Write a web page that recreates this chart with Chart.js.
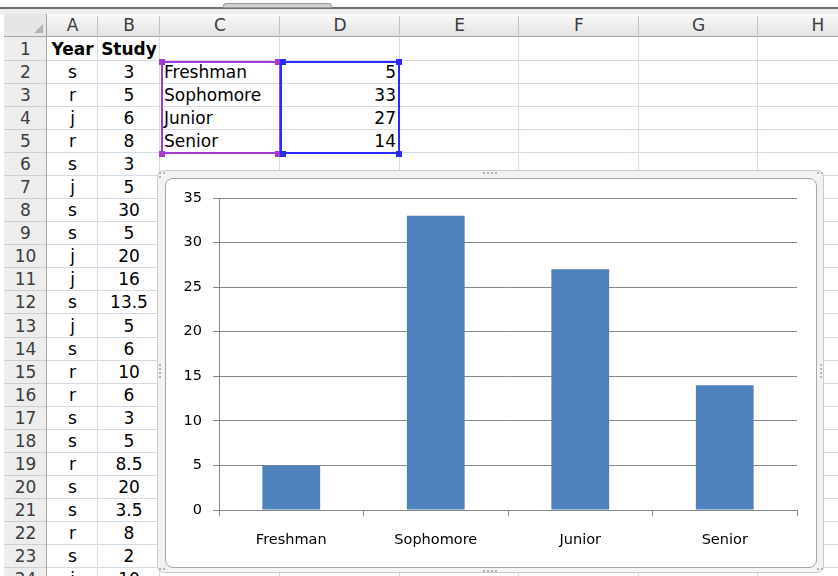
<!DOCTYPE html>
<html>
<head>
<meta charset="utf-8">
<title>Study hours by year</title>
<script src="https://cdn.jsdelivr.net/npm/chart.js@4.4.1/dist/chart.umd.min.js"></script>
<style>
  html, body { margin: 0; padding: 0; background: #fff; }
  body { width: 838px; height: 576px; overflow: hidden; position: relative;
         font-family: "DejaVu Sans", Verdana, sans-serif; }
  .a { position: absolute; box-sizing: border-box; }
  .cell { position: absolute; font-size: 17px; color: #000; white-space: nowrap; }
  .hdr { position: absolute; font-size: 17px; color: #3c3c3c; text-align: center; }
  #frame { left: 157px; top: 170px; width: 667px; height: 403px;
           border: 1px solid #c9c9c9; border-radius: 7px; background: #f2f2f2; }
  #inner { left: 165px; top: 178px; width: 652px; height: 390px;
           border: 1px solid #a6a6a6; border-radius: 8px; background: #fff; }
  #chartBox { position: absolute; left: 165px; top: 178px; width: 652px; height: 390px; }
</style>
</head>
<body>
<div id="sheet"></div>
<div id="frame" class="a"></div>
<div id="inner" class="a"></div>
<div id="chartBox"><canvas id="studyChart" width="652" height="390"></canvas></div>

<script>
// Worksheet contents
const columnLetters = ['A', 'B', 'C', 'D', 'E', 'F', 'G', 'H'];
const headerRow = ['Year', 'Study'];
const yearCodes = ['s', 'r', 'j', 'r', 's', 'j', 's', 's', 'j', 'j', 's', 'j',
                   's', 'r', 'r', 's', 's', 'r', 's', 's', 'r', 's', 'j'];
const studyHours = ['3', '5', '6', '8', '3', '5', '30', '5', '20', '16', '13.5', '5',
                    '6', '10', '6', '3', '5', '8.5', '20', '3.5', '8', '2', '10'];

// Summary table (C2:D5) that feeds the column chart
const categories = ['Freshman', 'Sophomore', 'Junior', 'Senior'];
const studyTotals = [5, 33, 27, 14];

// Value axis ticks
const yTicks = [0, 5, 10, 15, 20, 25, 30, 35];

// ---------- worksheet grid ----------
const sheet = document.getElementById('sheet');
const colEdges = [4, 47, 98, 160, 280, 400, 519, 639, 758, 878];
const headTop = 14, headBottom = 37;
const rowTop = r => Math.round(37.5 + (r - 1) * 23.08);
const rowCount = 24;

function box(x, y, w, h, style) {
  const d = document.createElement('div');
  d.className = 'a';
  d.style.left = x + 'px'; d.style.top = y + 'px';
  d.style.width = w + 'px'; d.style.height = h + 'px';
  Object.assign(d.style, style || {});
  sheet.appendChild(d);
  return d;
}
function text(cls, x, y, w, h, str, align, extra) {
  const d = document.createElement('div');
  d.className = cls;
  d.style.left = x + 'px'; d.style.top = y + 'px';
  d.style.width = w + 'px'; d.style.height = h + 'px';
  d.style.lineHeight = h + 'px';
  d.style.textAlign = align;
  Object.assign(d.style, extra || {});
  d.textContent = str;
  sheet.appendChild(d);
}

// window strip above the headers
box(0, 7, 838, 2, { background: '#6e6e6e' });
box(0, 9, 838, 5, { background: '#eeeeee' });
box(223, 3, 109, 5, { background: '#cfcfcf', borderRadius: '3px 3px 0 0', border: '1px solid #9a9a9a' });

// column header band
box(colEdges[1], headTop, 838 - colEdges[1], headBottom - headTop,
    { background: 'linear-gradient(#f9f9f9, #e3e3e3)', borderBottom: '1px solid #a5a5a5' });
// row header band
box(colEdges[0], headBottom, colEdges[1] - colEdges[0], 576 - headBottom,
    { background: '#ededed', borderRight: '1px solid #a5a5a5' });
// select-all corner
box(colEdges[0], headTop, colEdges[1] - colEdges[0], headBottom - headTop,
    { background: '#e6e6e6', borderRight: '1px solid #a5a5a5', borderBottom: '1px solid #a5a5a5' });
box(34, 24, 0, 0, { borderLeft: '9px solid transparent', borderBottom: '9px solid #b4b4b4' });

// cell gridlines
for (let i = 2; i < colEdges.length; i++) {
  box(colEdges[i] - 1, headBottom, 1, 576 - headBottom, { background: '#d5dbe6' });
}
for (let r = 1; r <= rowCount; r++) {
  const b = rowTop(r + 1);
  box(colEdges[1], b - 1, 838 - colEdges[1], 1, { background: '#d5dbe6' });
  box(colEdges[0], b - 1, colEdges[1] - colEdges[0] - 1, 1, { background: '#cdcdcd' });
}
// header separators
for (let i = 2; i < colEdges.length; i++) {
  box(colEdges[i] - 1, headTop + 2, 1, headBottom - headTop - 2, { background: '#c3c3c3' });
}

// column letters
columnLetters.forEach((L, i) => {
  text('hdr', colEdges[i + 1], headTop, colEdges[i + 2] - colEdges[i + 1], headBottom - headTop, L, 'center');
});
// row numbers
for (let r = 1; r <= rowCount; r++) {
  text('hdr', colEdges[0], rowTop(r), colEdges[1] - colEdges[0], rowTop(r + 1) - rowTop(r), String(r), 'center');
}

// row 1 headings
text('cell', colEdges[1], rowTop(1), colEdges[2] - colEdges[1], 23, headerRow[0], 'center', { fontWeight: 'bold' });
text('cell', colEdges[2], rowTop(1), colEdges[3] - colEdges[2], 23, headerRow[1], 'center', { fontWeight: 'bold' });

// data columns A and B
yearCodes.forEach((v, i) => {
  const r = i + 2;
  text('cell', colEdges[1], rowTop(r), colEdges[2] - colEdges[1], rowTop(r + 1) - rowTop(r), v, 'center');
});
studyHours.forEach((v, i) => {
  const r = i + 2;
  text('cell', colEdges[2], rowTop(r), colEdges[3] - colEdges[2], rowTop(r + 1) - rowTop(r), v, 'center');
});

// summary table C2:D5
categories.forEach((c, i) => {
  const r = i + 2, h = rowTop(r + 1) - rowTop(r);
  text('cell', colEdges[3] + 4, rowTop(r), colEdges[4] - colEdges[3] - 4, h, c, 'left');
  text('cell', colEdges[4], rowTop(r), colEdges[5] - colEdges[4] - 4, h, String(studyTotals[i]), 'right');
});

// range highlights around the chart source data
const selTop = rowTop(2), selBottom = rowTop(6);
box(161, selTop, colEdges[4] - 161 + 1, selBottom - selTop + 1, { border: '2px solid #a43ad6' });
box(colEdges[4], selTop, colEdges[5] - colEdges[4], selBottom - selTop + 1, { border: '2px solid #2b2bff' });
[[161, selTop], [277, selTop], [161, selBottom], [277, selBottom]].forEach(([x, y]) =>
  box(x - 2, y - 2, 6, 6, { background: '#a43ad6' }));
[[282, selTop], [398, selTop], [282, selBottom], [398, selBottom]].forEach(([x, y]) =>
  box(x - 2, y - 2, 6, 6, { background: '#2b2bff' }));

// chart frame grip dots
function grip(x, y, n, vertical) {
  for (let k = 0; k < n; k++) {
    const d = document.createElement('div');
    d.className = 'a';
    d.style.left = (x + (vertical ? 0 : k * 4)) + 'px';
    d.style.top = (y + (vertical ? k * 4 : 0)) + 'px';
    d.style.width = '2px'; d.style.height = '2px';
    d.style.background = '#b3b3b3';
    d.style.zIndex = 5;
    document.body.appendChild(d);
  }
}
grip(483, 172, 4, false);
grip(483, 570, 4, false);
grip(820, 364, 4, true);
grip(159, 364, 4, true);
grip(159, 172, 2, false); grip(159, 176, 1, false);
grip(817, 172, 2, false);
grip(159, 568, 2, false);
grip(817, 568, 2, false);

// ---------- column chart ----------
const axisGrey = '#878787';
const labelFont = { family: '"DejaVu Sans", Verdana, sans-serif', size: 14.5 };

new Chart(document.getElementById('studyChart'), {
  type: 'bar',
  data: {
    labels: categories,
    datasets: [{
      data: studyTotals,
      backgroundColor: '#4f81bd',
      borderWidth: 0,
      barPercentage: 0.4,
      categoryPercentage: 1.0
    }]
  },
  options: {
    responsive: false,
    animation: false,
    devicePixelRatio: 1,
    layout: { padding: { top: 20, right: 20, bottom: 18, left: 0 } },
    plugins: { legend: { display: false }, tooltip: { enabled: false } },
    scales: {
      x: {
        offset: true,
        grid: { offset: true, drawOnChartArea: false, drawTicks: true, tickLength: 6, color: axisGrey, lineWidth: 1 },
        border: { display: true, color: axisGrey, width: 1 },
        ticks: { color: '#000', font: labelFont, padding: 16, maxRotation: 0, autoSkip: false },
        afterFit: s => { s.height = 40; }
      },
      y: {
        min: yTicks[0],
        max: yTicks[yTicks.length - 1],
        afterBuildTicks: s => { s.ticks = yTicks.map(v => ({ value: v })); },
        grid: { drawTicks: true, tickLength: 6, color: axisGrey, lineWidth: 1 },
        border: { display: true, color: axisGrey, width: 1 },
        ticks: { color: '#000', font: labelFont, padding: 11 },
        afterFit: s => { s.width = 54; }
      }
    }
  }
});
</script>
</body>
</html>
